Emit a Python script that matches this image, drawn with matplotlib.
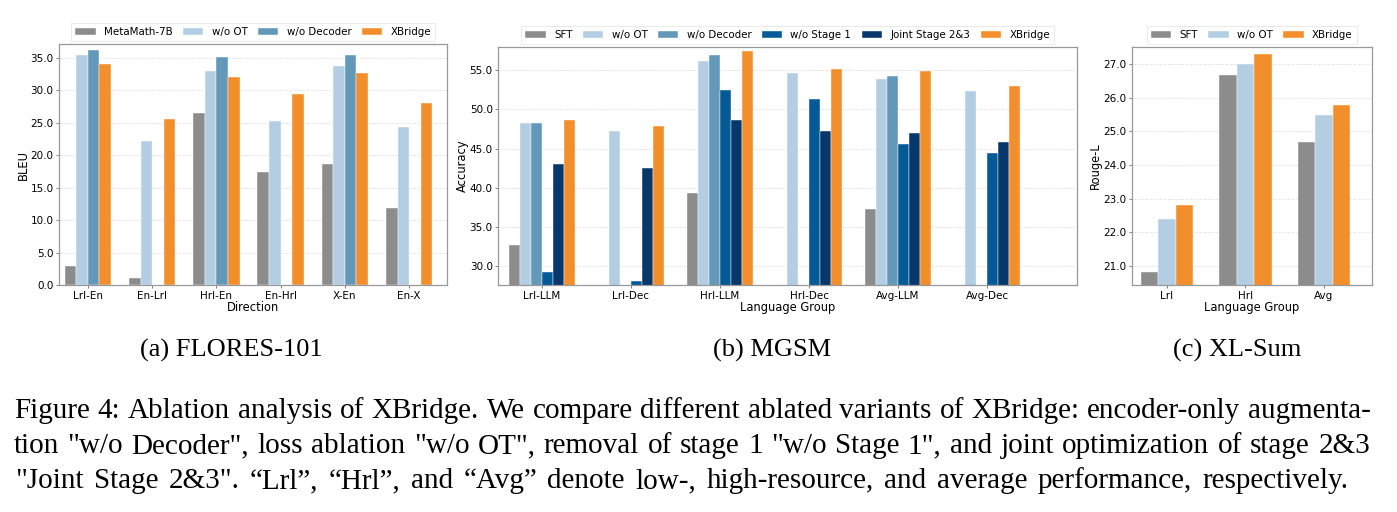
import numpy as np
import matplotlib.pyplot as plt

nan = np.nan

# (a) FLORES-101
flores_dirs = ['Lrl-En', 'En-Lrl', 'Hrl-En', 'En-Hrl', 'X-En', 'En-X']
flores_metamath = [2.9, 1.1, 26.5, 17.4, 18.7, 11.9]
flores_wo_ot = [35.4, 22.2, 33.0, 25.3, 33.8, 24.3]
flores_wo_dec = [36.2, nan, 35.1, nan, 35.4, nan]
flores_xbridge = [34.0, 25.6, 32.0, 29.4, 32.7, 28.1]

# (b) MGSM
mgsm_groups = ['Lrl-LLM', 'Lrl-Dec', 'Hrl-LLM', 'Hrl-Dec', 'Avg-LLM', 'Avg-Dec']
mgsm_sft = [32.7, nan, 39.3, nan, 37.3, nan]
mgsm_wo_ot = [48.3, 47.2, 56.2, 54.6, 53.9, 52.4]
mgsm_wo_dec = [48.3, nan, 56.9, nan, 54.3, nan]
mgsm_wo_stage1 = [29.3, 28.1, 52.5, 51.3, 45.6, 44.4]
mgsm_joint = [43.1, 42.5, 48.6, 47.3, 47.0, 45.9]
mgsm_xbridge = [48.7, 47.9, 57.5, 55.1, 54.9, 53.0]

# (c) XL-Sum
xlsum_groups = ['Lrl', 'Hrl', 'Avg']
xlsum_sft = [20.8, 26.7, 24.7]
xlsum_wo_ot = [22.4, 27.0, 25.5]
xlsum_xbridge = [22.8, 27.3, 25.8]

subcaptions = ['(a) FLORES-101', '(b) MGSM', '(c) XL-Sum']
caption = [
    'Figure 4: Ablation analysis of XBridge. We compare different ablated variants of XBridge: encoder-only augmenta-',
    'tion "w/o Decoder", loss ablation "w/o OT", removal of stage 1 "w/o Stage 1", and joint optimization of stage 2&3',
    '"Joint Stage 2&3". \u201cLrl\u201d, \u201cHrl\u201d, and \u201cAvg\u201d denote low-, high-resource, and average performance, respectively.',
]

GRAY = '#8c8c8c'
LIGHT = '#b3cde3'
MID = '#6398b9'
STAGE1 = '#045a96'
JOINT = '#08386b'
ORANGE = '#f28e2b'

plt.rcParams['font.family'] = 'DejaVu Sans'

W, H = 1397, 512
fig = plt.figure(figsize=(W / 100, H / 100), dpi=100)


def px_axes(left, top, right, bottom):
    return fig.add_axes([left / W, 1 - bottom / H, (right - left) / W, (bottom - top) / H])


def bar_panel(ax, groups, series, labels, colors, width, xlabel, ylabel, ylim, xlim):
    x = np.arange(len(groups))
    n = len(series)
    for i, (vals, lab, col) in enumerate(zip(series, labels, colors)):
        ax.bar(x + (i - (n - 1) / 2) * width, vals, width, label=lab, color=col,
               edgecolor='white', linewidth=0.3, zorder=2)
    ax.set_xticks(x)
    ax.set_xticklabels(groups, fontsize=7.5)
    ax.tick_params(axis='y', labelsize=7.5)
    ax.tick_params(length=2.5, width=0.7, color='0.5', pad=1.5)
    ax.yaxis.set_major_formatter(plt.FormatStrFormatter('%.1f'))
    ax.set_xlabel(xlabel, fontsize=8.3, labelpad=0)
    ax.set_ylabel(ylabel, fontsize=8.3, labelpad=0.5)
    ax.set_ylim(*ylim)
    ax.set_xlim(*xlim)
    ax.yaxis.grid(True, linestyle='--', linewidth=0.6, alpha=0.35, zorder=0)
    ax.set_axisbelow(True)
    for s in ax.spines.values():
        s.set_color('0.6')
        s.set_linewidth(0.9)
    leg = ax.legend(loc='lower center', bbox_to_anchor=(0.5, 1.012), ncol=n, fontsize=7.4,
                    borderaxespad=0, columnspacing=1.0, handletextpad=0.8, handlelength=2.0,
                    borderpad=0.4, fancybox=False)
    leg.get_frame().set_edgecolor('0.88')
    leg.get_frame().set_linewidth(0.6)


ax1 = px_axes(59, 44.3, 447, 285)
bar_panel(ax1, flores_dirs, [flores_metamath, flores_wo_ot, flores_wo_dec, flores_xbridge],
          ['MetaMath-7B', 'w/o OT', 'w/o Decoder', 'XBridge'], [GRAY, LIGHT, MID, ORANGE],
          0.18, 'Direction', 'BLEU', (0, 37.1), (-0.45, 5.59))

ax2 = px_axes(498.3, 46.7, 1077, 285.3)
bar_panel(ax2, mgsm_groups, [mgsm_sft, mgsm_wo_ot, mgsm_wo_dec, mgsm_wo_stage1, mgsm_joint, mgsm_xbridge],
          ['SFT', 'w/o OT', 'w/o Decoder', 'w/o Stage 1', 'Joint Stage 2&3', 'XBridge'],
          [GRAY, LIGHT, MID, STAGE1, JOINT, ORANGE],
          0.125, 'Language Group', 'Accuracy', (27.6, 58.0), (-0.49, 6.01))

ax3 = px_axes(1131.7, 46.7, 1371.7, 285.3)
bar_panel(ax3, xlsum_groups, [xlsum_sft, xlsum_wo_ot, xlsum_xbridge],
          ['SFT', 'w/o OT', 'XBridge'], [GRAY, LIGHT, ORANGE],
          0.222, 'Language Group', 'Rouge-L', (20.41, 27.53), (-0.45, 2.61))

# captions under the panels
serif = 'Liberation Serif'
for cx, txt in zip([231.5, 772, 1237], subcaptions):
    fig.text(cx / W, 1 - 357 / H, txt, ha='center', va='baseline', fontsize=19, family=serif)

cap_size = 21.0
renderer = fig.canvas.get_renderer()


def justified_line(text, baseline, x0, x1):
    words = text.split(' ')
    widths = []
    for w in words:
        t = fig.text(0, 0, w, fontsize=cap_size, family=serif)
        widths.append(t.get_window_extent(renderer).width)
        t.remove()
    gap = (x1 - x0 - sum(widths)) / (len(words) - 1)
    x = x0
    for w, wd in zip(words, widths):
        fig.text(x / W, 1 - baseline / H, w, ha='left', va='baseline', fontsize=cap_size, family=serif)
        x += wd + gap


justified_line(caption[0], 418, 14, 1371)
justified_line(caption[1], 453, 14, 1370)
justified_line(caption[2], 488, 15, 1348)

fig.savefig('out.png', dpi=100)
